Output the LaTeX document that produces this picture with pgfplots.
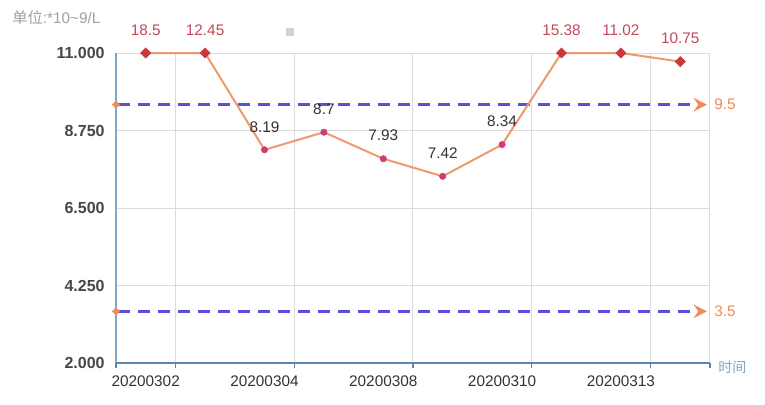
\documentclass[border=0pt]{standalone}
\usepackage{fontspec}
\setmainfont{Liberation Sans}
\newfontfamily\cjk{Noto Sans CJK SC}
\usepackage{pgfplots}
\pgfplotsset{compat=1.18}
\usepackage{pgfplotstable}
\usetikzlibrary{arrows.meta}

\definecolor{axisblue}{HTML}{5E86B0}
\definecolor{axisblueL}{HTML}{7FA6CC}
\definecolor{gridgray}{HTML}{DADADA}
\definecolor{lineorange}{HTML}{EE9A6C}
\definecolor{highred}{HTML}{C83A3A}
\definecolor{normpink}{HTML}{D23C78}
\definecolor{dashblue}{HTML}{5A50D6}
\definecolor{refor}{HTML}{F08A58}
\definecolor{lblred}{HTML}{C4485A}
\definecolor{lblgray}{HTML}{333333}
\definecolor{unitgray}{HTML}{A0A0A0}

\pgfplotstableread{
x y
0 11
1 11
2 8.19
3 8.7
4 7.93
5 7.42
6 8.34
7 11
8 11
9 10.75
}\linedata

\pgfplotstableread{
x y lab
0 11 18.5
1 11 12.45
7 11 15.38
8 11 11.02
9 10.75 10.75
}\highdata

\pgfplotstableread{
x y lab
2 8.19 8.19
3 8.7 8.7
4 7.93 7.93
5 7.42 7.42
6 8.34 8.34
}\normdata

\begin{document}
\begin{tikzpicture}
\begin{scope}[x=0.75pt,y=0.75pt]
\useasboundingbox (-116,-41) rectangle (649,363);
\fill[white] (-116,-41) rectangle (649,363);
\node[anchor=west, inner sep=0, text=unitgray, font=\fontsize{11.5}{13}\selectfont] at (-104,345) {{\cjk 单位}:*10\textasciitilde 9/L};
\fill[gray!35] (170,327) rectangle (178,335);
\end{scope}
\begin{axis}[
  at={(0,0)}, anchor=south west,
  width=445.5pt, height=232.5pt, scale only axis,
  xmin=-0.5, xmax=9.5, ymin=2, ymax=11,
  clip=false,
  axis x line=bottom, axis y line=left,
  axis line style={-},
  x axis line style={draw=axisblue, line width=2.2pt},
  y axis line style={draw=axisblueL, line width=1.5pt},
  xtick={0,2,4,6,8},
  xticklabels={20200302,20200304,20200308,20200310,20200313},
  minor xtick={-0.5,0.5,2.5,4.5,6.5,8.5,9.5},
  ytick={2,4.25,6.5,8.75,11},
  ymajorgrids, xminorgrids,
  grid style={gridgray, line width=0.75pt},
  minor grid style={gridgray, line width=0.75pt},
  tick align=outside,
  major tick length=0pt,
  minor tick length=4pt,
  every minor tick/.append style={axisblue, line width=1pt},
  /pgf/number format/fixed,
  /pgf/number format/fixed zerofill,
  /pgf/number format/precision=3,
  /pgf/number format/assume math mode=true,
  ticklabel style={font=\fontsize{11.5}{13}\selectfont, text=lblgray},
  yticklabel style={xshift=-5pt, font=\fontsize{12}{13}\selectfont\bfseries, text=lblgray!90!white},
  xticklabel style={yshift=-6pt},
]
\addplot[dashblue, line width=2.2pt, dash pattern=on 9pt off 6pt,
  {Circle[color=refor,length=5pt,sep=-2.5pt]}-{Stealth[color=refor,length=10pt,width=10pt,inset=3.5pt]}]
  coordinates {(-0.5,9.5) (9.45,9.5)};
\addplot[dashblue, line width=2.2pt, dash pattern=on 9pt off 6pt,
  {Circle[color=refor,length=5pt,sep=-2.5pt]}-{Stealth[color=refor,length=10pt,width=10pt,inset=3.5pt]}]
  coordinates {(-0.5,3.5) (9.45,3.5)};
\addplot[lineorange, line width=1.5pt, no marks] table[x=x,y=y]{\linedata};
\addplot[only marks, mark=square*, mark size=2.7pt, mark options={rotate=45}, color=highred,
  nodes near coords, point meta=explicit symbolic,
  nodes near coords style={anchor=south, inner sep=0pt, yshift=13pt, rotate=0, text=lblred, font=\fontsize{11.5}{13}\selectfont}]
  table[x=x,y=y,meta=lab]{\highdata};
\addplot[only marks, mark=*, mark size=2.4pt, color=normpink,
  nodes near coords, point meta=explicit symbolic,
  nodes near coords style={anchor=south, inner sep=0pt, yshift=13pt, text=lblgray, font=\fontsize{11.5}{13}\selectfont}]
  table[x=x,y=y,meta=lab]{\normdata};
\node[anchor=west, inner sep=0, text=refor, font=\fontsize{11.5}{13}\selectfont] at (axis cs:9.5,9.5) [xshift=3pt] {9.5};
\node[anchor=west, inner sep=0, text=refor, font=\fontsize{11.5}{13}\selectfont] at (axis cs:9.5,3.5) [xshift=3pt] {3.5};
\node[anchor=west, inner sep=0, text=axisblueL, font=\fontsize{10.5}{12}\selectfont] at (rel axis cs:1,0) [xshift=6pt,yshift=-3pt] {\cjk 时间};
\end{axis}
\end{tikzpicture}
\end{document}
